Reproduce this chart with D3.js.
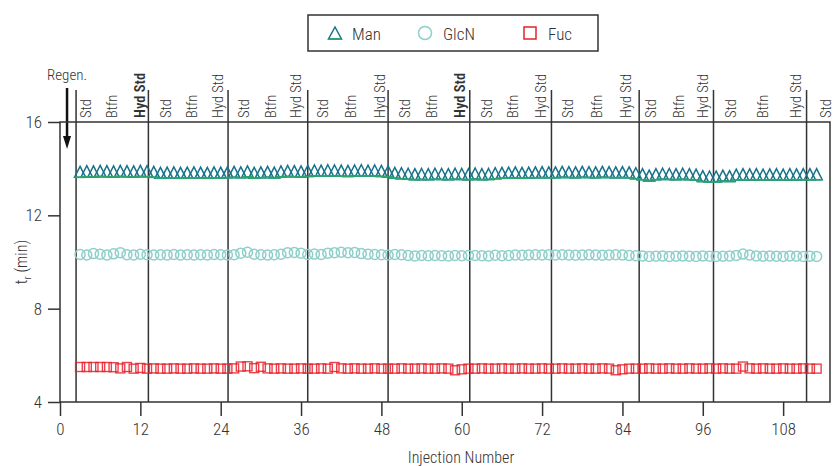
<!DOCTYPE html>
<html>
<head>
<meta charset="utf-8">
<script src="https://cdn.jsdelivr.net/npm/d3@7"></script>
<style>
  body { margin: 0; background: #fff; }
  text { font-family: "Liberation Sans Narrow", "Roboto Condensed", "DejaVu Sans Condensed", "Liberation Sans", sans-serif; font-weight: 300; fill: #333; }
</style>
</head>
<body>
<div id="chart"></div>
<script>
// injection numbers 3..113
var injections = d3.range(3, 114)

var man = [
  13.82, 13.85, 13.84, 13.86, 13.85, 13.84, 13.86, 13.85, 13.84, 13.86, 13.85,
  13.82, 13.78, 13.79, 13.80, 13.78, 13.79, 13.80, 13.79, 13.78, 13.80, 13.79, 13.80,
  13.82, 13.80, 13.84, 13.78, 13.80, 13.82, 13.79, 13.84, 13.86, 13.85, 13.84, 13.86,
  13.88, 13.87, 13.89, 13.88, 13.87, 13.86, 13.88, 13.89, 13.87, 13.88, 13.86, 13.84,
  13.78, 13.76, 13.74, 13.72, 13.73, 13.72, 13.74, 13.73, 13.72, 13.74, 13.73, 13.72,
  13.75, 13.72, 13.73, 13.76, 13.78, 13.79, 13.80, 13.78, 13.79, 13.80, 13.81, 13.80,
  13.80, 13.82, 13.81, 13.80, 13.82, 13.81, 13.80, 13.82, 13.81, 13.80, 13.81, 13.80, 13.76,
  13.72, 13.66, 13.72, 13.74, 13.73, 13.72, 13.74, 13.72, 13.70, 13.64, 13.62,
  13.62, 13.66, 13.64, 13.70, 13.72, 13.71, 13.72, 13.70, 13.71, 13.72, 13.70, 13.72, 13.71, 13.72,
  13.72, 13.72
]

var glcn = [
  10.32, 10.30, 10.36, 10.33, 10.30, 10.35, 10.40, 10.31, 10.30, 10.33, 10.31,
  10.30, 10.31, 10.30, 10.32, 10.30, 10.31, 10.30, 10.31, 10.30, 10.32, 10.31, 10.30,
  10.31, 10.38, 10.42, 10.33, 10.31, 10.30, 10.31, 10.33, 10.40, 10.41, 10.38, 10.32,
  10.34, 10.32, 10.38, 10.40, 10.42, 10.40, 10.41, 10.36, 10.33, 10.32, 10.31, 10.30,
  10.32, 10.31, 10.28, 10.26, 10.28, 10.27, 10.28, 10.27, 10.26, 10.28, 10.27, 10.28,
  10.28, 10.27, 10.26, 10.29, 10.27, 10.28, 10.30, 10.29, 10.30, 10.31, 10.30, 10.31,
  10.30, 10.31, 10.30, 10.29, 10.30, 10.31, 10.30, 10.29, 10.30, 10.31, 10.30, 10.28, 10.27,
  10.26, 10.24, 10.25, 10.26, 10.24, 10.25, 10.26, 10.25, 10.24, 10.26, 10.25,
  10.24, 10.25, 10.26, 10.28, 10.34, 10.30, 10.26, 10.25, 10.26, 10.25, 10.24, 10.26, 10.25, 10.24,
  10.25, 10.24
]

var fuc = [
  5.50, 5.50, 5.50, 5.50, 5.50, 5.49, 5.44, 5.50, 5.43, 5.46, 5.43,
  5.44, 5.43, 5.43, 5.44, 5.43, 5.43, 5.44, 5.43, 5.43, 5.44, 5.43, 5.43,
  5.44, 5.52, 5.53, 5.45, 5.51, 5.44, 5.43, 5.44, 5.43, 5.43, 5.44, 5.43,
  5.43, 5.44, 5.43, 5.50, 5.44, 5.43, 5.44, 5.43, 5.43, 5.44, 5.43, 5.43,
  5.43, 5.44, 5.43, 5.43, 5.44, 5.43, 5.43, 5.44, 5.43, 5.36, 5.40, 5.43,
  5.43, 5.44, 5.43, 5.43, 5.44, 5.43, 5.43, 5.44, 5.43, 5.43, 5.44, 5.43,
  5.43, 5.44, 5.43, 5.43, 5.44, 5.43, 5.43, 5.44, 5.43, 5.36, 5.40, 5.43, 5.43,
  5.43, 5.44, 5.43, 5.43, 5.44, 5.43, 5.43, 5.44, 5.43, 5.43, 5.44,
  5.43, 5.44, 5.43, 5.43, 5.52, 5.44, 5.43, 5.44, 5.43, 5.43, 5.44, 5.43, 5.43, 5.44,
  5.43, 5.43
]

// vertical separators between sample blocks (injection number)
var separators = [2.4, 13.2, 25.1, 37.0, 49.0, 61.2, 73.4, 86.5, 97.6, 111.5]

var sampleLabels = ['Std', 'Btfn', 'Hyd Std', 'Std', 'Btfn', 'Hyd Std', 'Std', 'Btfn', 'Hyd Std',
  'Std', 'Btfn', 'Hyd Std', 'Std', 'Btfn', 'Hyd Std', 'Std', 'Btfn', 'Hyd Std', 'Std', 'Btfn', 'Hyd Std',
  'Std', 'Btfn', 'Hyd Std', 'Std', 'Btfn', 'Hyd Std', 'Std']
var sampleLabelPos = [3.9, 7.8, 11.9, 15.8, 19.7, 23.6, 27.5, 31.5, 35.2, 39.3, 43.5, 47.8,
  51.5, 55.6, 59.7, 63.8, 67.7, 71.8, 75.9, 80.2, 84.5, 88.3, 92.4, 96.0, 100.2, 105.0, 109.9, 114.4]
var boldLabels = [2, 14]

var xTicks = [0, 12, 24, 36, 48, 60, 72, 84, 96, 108]
var yTicks = [4, 8, 12, 16]
var regenAt = 1.05

var width = 840, height = 466
var svg = d3.select('#chart').append('svg').attr('width', width).attr('height', height)

var x = d3.scaleLinear().domain([0, 115]).range([60, 830])
var y = d3.scaleLinear().domain([4, 16]).range([402, 122])

var ink = '#333'

// separators, run up into the label strip
svg.append('g').selectAll('line').data(separators).enter().append('line')
  .attr('x1', d => x(d)).attr('x2', d => x(d))
  .attr('y1', 90).attr('y2', y(4))
  .attr('stroke', ink).attr('stroke-width', 1.5)

// sample labels
svg.append('g').selectAll('text').data(sampleLabels).enter().append('text')
  .attr('transform', (d, i) => `translate(${x(sampleLabelPos[i])}, 118) rotate(-90)`)
  .attr('dy', '0.35em')
  .attr('font-size', '14.5px')
  .style('font-weight', (d, i) => boldLabels.includes(i) ? 600 : null)
  .text(d => d)

// regen arrow
svg.append('text').attr('x', x(regenAt)).attr('y', 80).attr('text-anchor', 'middle')
  .attr('font-size', '15px').text('Regen.')
svg.append('line').attr('x1', x(regenAt)).attr('x2', x(regenAt)).attr('y1', 88).attr('y2', 138)
  .attr('stroke', '#111').attr('stroke-width', 2.5)
svg.append('path')
  .attr('d', `M${x(regenAt) - 4},136 L${x(regenAt) + 4},136 L${x(regenAt)},149 Z`)
  .attr('fill', '#111')

// markers
var pts = injections.map((n, i) => ({ n: n, man: man[i], glcn: glcn[i], fuc: fuc[i] }))

var tri = 'M0,-6.5 L5.6,4.5 L-5.6,4.5 Z'
var gMan = svg.append('g')
gMan.selectAll('path').data(pts).enter().append('path')
  .attr('transform', d => `translate(${x(d.n)}, ${y(d.man)})`)
  .attr('d', tri).attr('fill', 'none').attr('stroke', '#17728a').attr('stroke-width', 1.5)
gMan.selectAll('line').data(pts).enter().append('line')
  .attr('transform', d => `translate(${x(d.n)}, ${y(d.man)})`)
  .attr('x1', -5.6).attr('x2', 5.6).attr('y1', 4.5).attr('y2', 4.5)
  .attr('stroke', '#2ca56c').attr('stroke-width', 1.6)

svg.append('g').selectAll('circle').data(pts).enter().append('circle')
  .attr('cx', d => x(d.n)).attr('cy', d => y(d.glcn)).attr('r', 5)
  .attr('fill', 'none').attr('stroke', '#8fcfcb').attr('stroke-width', 1.5)

svg.append('g').selectAll('rect').data(pts).enter().append('rect')
  .attr('x', d => x(d.n) - 4.5).attr('y', d => y(d.fuc) - 4.5)
  .attr('width', 9).attr('height', 9)
  .attr('fill', 'none').attr('stroke', '#e8202a').attr('stroke-opacity', 0.85).attr('stroke-width', 1.4)

// frame
svg.append('rect').attr('x', x(0)).attr('y', y(16))
  .attr('width', x(115) - x(0)).attr('height', y(4) - y(16))
  .attr('fill', 'none').attr('stroke', ink).attr('stroke-width', 1.5)

// axes
var xAxis = svg.append('g').attr('transform', `translate(0, ${y(4)})`)
  .call(d3.axisBottom(x).tickValues(xTicks).tickSize(14).tickPadding(7))
xAxis.select('.domain').remove()
xAxis.selectAll('line').attr('stroke', ink).attr('stroke-width', 1.5)
xAxis.selectAll('text').attr('font-size', '17px').attr('fill', ink).style('font-family', null)

var yAxis = svg.append('g').attr('transform', `translate(${x(0)}, 0)`)
  .call(d3.axisLeft(y).tickValues(yTicks).tickSize(12).tickPadding(6))
yAxis.select('.domain').remove()
yAxis.selectAll('line').attr('stroke', ink).attr('stroke-width', 1.5)
yAxis.selectAll('text').attr('font-size', '17px').attr('fill', ink).style('font-family', null)

svg.append('text').attr('x', 461).attr('y', 463).attr('text-anchor', 'middle')
  .attr('font-size', '16px').text('Injection Number')

var yl = svg.append('text').attr('transform', `translate(27, ${(y(4) + y(16)) / 2}) rotate(-90)`)
  .attr('text-anchor', 'middle').attr('font-size', '16px')
yl.append('tspan').text('t')
yl.append('tspan').attr('font-size', '11px').attr('dy', 4).text('r')
yl.append('tspan').attr('dy', -4).text(' (min)')

// legend
var legend = svg.append('g')
legend.append('rect').attr('x', 308).attr('y', 15).attr('width', 290).attr('height', 36)
  .attr('fill', '#fff').attr('stroke', ink).attr('stroke-width', 1.5)
var lg = legend.append('g').attr('transform', 'translate(335, 34)')
lg.append('path').attr('d', 'M0,-7 L6.5,5 L-6.5,5 Z').attr('fill', 'none').attr('stroke', '#17728a').attr('stroke-width', 1.5)
lg.append('line').attr('x1', -6.5).attr('x2', 6.5).attr('y1', 5).attr('y2', 5).attr('stroke', '#2ca56c').attr('stroke-width', 1.6)
legend.append('text').attr('x', 352).attr('y', 40).attr('font-size', '17px').text('Man')
legend.append('circle').attr('cx', 425).attr('cy', 33).attr('r', 6.5)
  .attr('fill', 'none').attr('stroke', '#8fcfcb').attr('stroke-width', 1.5)
legend.append('text').attr('x', 443).attr('y', 40).attr('font-size', '17px').text('GlcN')
legend.append('rect').attr('x', 524).attr('y', 27).attr('width', 12).attr('height', 12)
  .attr('fill', 'none').attr('stroke', '#e8202a').attr('stroke-width', 1.5)
legend.append('text').attr('x', 548).attr('y', 40).attr('font-size', '17px').text('Fuc')
</script>
</body>
</html>
